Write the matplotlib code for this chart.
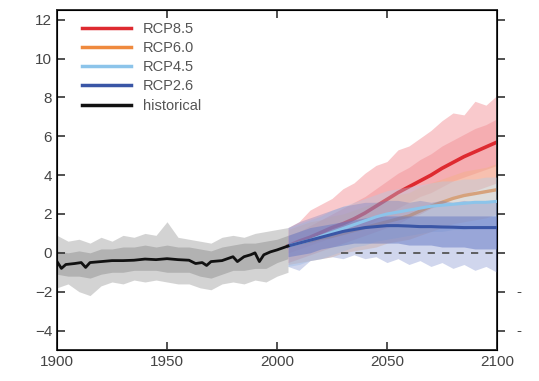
import matplotlib
matplotlib.use("Agg")
import matplotlib.pyplot as plt

plt.rcParams["font.family"] = ["Liberation Sans", "DejaVu Sans"]

# -----------------------------
# DATA
# -----------------------------
hist_mean_years = [1900, 1902, 1904, 1908, 1911, 1913, 1915, 1920, 1925, 1930, 1935, 1940,
                   1945, 1950, 1955, 1960, 1963, 1966, 1968, 1970, 1975, 1980, 1982, 1985,
                   1988, 1990, 1992, 1994, 1997, 2000, 2005]
hist_mean = [-0.45, -0.8, -0.6, -0.55, -0.5, -0.75, -0.5, -0.45, -0.4, -0.4, -0.38, -0.32,
             -0.35, -0.3, -0.35, -0.38, -0.55, -0.5, -0.65, -0.45, -0.4, -0.2, -0.45, -0.2,
             -0.1, 0.0, -0.45, -0.1, 0.05, 0.15, 0.35]

hist_years = [1900, 1905, 1910, 1915, 1920, 1925, 1930, 1935, 1940, 1945, 1950, 1955,
              1960, 1965, 1970, 1975, 1980, 1985, 1990, 1995, 2000, 2005]
hist_hi = [0.9, 0.6, 0.7, 0.5, 0.8, 0.6, 0.9, 0.8, 1.0, 0.9, 1.6, 0.8,
           0.7, 0.6, 0.5, 0.8, 0.9, 0.8, 1.0, 1.1, 1.2, 1.3]
hist_lo = [-1.8, -1.6, -2.0, -2.2, -1.7, -1.5, -1.6, -1.4, -1.5, -1.4, -1.5, -1.6,
           -1.6, -1.8, -1.9, -1.6, -1.5, -1.6, -1.4, -1.5, -1.2, -1.0]
hist_hi_core = [0.1, 0.0, 0.1, 0.0, 0.2, 0.2, 0.3, 0.3, 0.4, 0.3, 0.4, 0.3,
                0.3, 0.2, 0.1, 0.3, 0.4, 0.5, 0.5, 0.6, 0.7, 0.9]
hist_lo_core = [-1.1, -1.2, -1.2, -1.3, -1.1, -1.0, -1.0, -0.9, -0.9, -0.9, -1.0, -1.0,
                -1.0, -1.2, -1.3, -1.1, -0.9, -0.9, -0.8, -0.8, -0.5, -0.3]

rcp_years = [2005, 2010, 2015, 2020, 2025, 2030, 2035, 2040, 2045, 2050,
             2055, 2060, 2065, 2070, 2075, 2080, 2085, 2090, 2095, 2100]

rcp85_mean = [0.35, 0.6, 0.8, 1.05, 1.3, 1.5, 1.75, 2.05, 2.4, 2.75,
              3.1, 3.4, 3.7, 4.0, 4.35, 4.65, 4.95, 5.2, 5.45, 5.7]
rcp85_hi = [1.3, 1.6, 2.2, 2.5, 2.8, 3.3, 3.6, 4.1, 4.5, 4.7,
            5.3, 5.5, 5.9, 6.3, 6.8, 7.2, 7.1, 7.8, 7.6, 8.1]
rcp85_lo = [-0.5, -0.3, -0.1, 0.1, 0.3, 0.5, 0.7, 0.9, 1.1, 1.3,
            1.5, 1.8, 2.0, 2.3, 2.5, 2.8, 3.0, 3.2, 3.4, 3.6]
rcp85_hi_core = [0.9, 1.1, 1.4, 1.7, 2.0, 2.3, 2.6, 2.9, 3.3, 3.7,
                 4.1, 4.4, 4.8, 5.1, 5.5, 5.8, 6.1, 6.4, 6.6, 6.9]
rcp85_lo_core = [0.0, 0.2, 0.4, 0.6, 0.8, 1.0, 1.2, 1.4, 1.7, 2.0,
                 2.3, 2.6, 2.9, 3.1, 3.4, 3.7, 3.9, 4.1, 4.3, 4.5]

rcp60_mean = [0.35, 0.5, 0.6, 0.75, 0.85, 1.0, 1.15, 1.3, 1.45, 1.6,
              1.75, 1.9, 2.15, 2.4, 2.6, 2.8, 2.95, 3.05, 3.15, 3.25]
rcp60_hi = [1.2, 1.4, 1.6, 1.7, 1.9, 2.0, 2.2, 2.4, 2.6, 2.8,
            3.0, 3.1, 3.4, 3.6, 3.8, 4.0, 4.2, 4.3, 4.4, 4.6]
rcp60_lo = [-0.6, -0.5, -0.4, -0.3, -0.2, 0.0, 0.1, 0.2, 0.3, 0.5,
            0.6, 0.7, 0.9, 1.1, 1.3, 1.5, 1.6, 1.7, 1.8, 2.0]

rcp45_mean = [0.35, 0.5, 0.65, 0.85, 1.05, 1.25, 1.45, 1.65, 1.85, 2.0,
              2.1, 2.2, 2.3, 2.4, 2.45, 2.5, 2.55, 2.6, 2.6, 2.65]
rcp45_hi = [1.3, 1.5, 1.7, 1.9, 2.2, 2.4, 2.6, 2.8, 3.0, 3.2,
            3.3, 3.4, 3.5, 3.6, 3.7, 3.7, 3.8, 3.8, 3.9, 3.9]
rcp45_lo = [-0.7, -0.6, -0.4, -0.3, -0.1, 0.1, 0.3, 0.4, 0.6, 0.7,
            0.8, 0.9, 1.0, 1.1, 1.1, 1.2, 1.2, 1.3, 1.3, 1.3]

rcp26_mean = [0.35, 0.5, 0.65, 0.8, 0.95, 1.1, 1.2, 1.3, 1.35, 1.4,
              1.4, 1.38, 1.35, 1.35, 1.33, 1.32, 1.3, 1.3, 1.3, 1.3]
rcp26_hi = [1.3, 1.6, 1.8, 2.0, 2.2, 2.4, 2.5, 2.6, 2.6, 2.7,
            2.7, 2.6, 2.7, 2.6, 2.7, 2.6, 2.7, 2.6, 2.7, 2.6]
rcp26_lo = [-0.7, -0.9, -0.4, -0.3, -0.2, -0.3, -0.1, -0.3, -0.2, -0.5,
            -0.3, -0.6, -0.4, -0.7, -0.5, -0.8, -0.6, -0.9, -0.7, -1.0]
rcp26_hi_core = [0.9, 1.1, 1.3, 1.4, 1.5, 1.6, 1.7, 1.8, 1.9, 1.9,
                 1.9, 1.9, 1.9, 1.9, 1.9, 1.9, 1.9, 1.9, 1.9, 1.9]
rcp26_lo_core = [-0.2, -0.1, 0.0, 0.2, 0.3, 0.4, 0.5, 0.5, 0.5, 0.5,
                 0.5, 0.4, 0.4, 0.4, 0.3, 0.3, 0.3, 0.2, 0.2, 0.2]

labels = ["RCP8.5", "RCP6.0", "RCP4.5", "RCP2.6", "historical"]
line_colors = ["#de2a30", "#ef8a3e", "#8cc4ea", "#3a56a6", "#111111"]
band_colors = ["#f07a80", "#f4b07a", "#a8d0f0", "#6478c4"]

x_ticks = [1900, 1950, 2000, 2050, 2100]
y_ticks = [-4, -2, 0, 2, 4, 6, 8, 10, 12]


def main() -> None:
    fig = plt.figure(figsize=(5.39, 3.81), dpi=100)
    ax = fig.add_axes([0.1058, 0.0814, 0.8162, 0.8924])

    # ensemble spread: historical
    ax.fill_between(hist_years, hist_lo, hist_hi, color="#b0b0b0", alpha=0.55, lw=0)
    ax.fill_between(hist_years, hist_lo_core, hist_hi_core, color="#8a8a8a", alpha=0.45, lw=0)

    # ensemble spread: scenarios (high scenarios first, their means partly under the blue spread)
    ax.fill_between(rcp_years, rcp85_lo, rcp85_hi, color=band_colors[0], alpha=0.4, lw=0)
    ax.fill_between(rcp_years, rcp85_lo_core, rcp85_hi_core, color=band_colors[0], alpha=0.35, lw=0)
    ax.fill_between(rcp_years, rcp60_lo, rcp60_hi, color=band_colors[1], alpha=0.35, lw=0)
    ax.plot(rcp_years, rcp85_mean, color=line_colors[0], lw=2.6, zorder=2)
    ax.plot(rcp_years, rcp60_mean, color=line_colors[1], lw=2.4, zorder=2)
    ax.fill_between(rcp_years, rcp45_lo, rcp45_hi, color=band_colors[2], alpha=0.35, lw=0, zorder=3)
    ax.fill_between(rcp_years, rcp26_lo, rcp26_hi, color=band_colors[3], alpha=0.3, lw=0, zorder=3)
    ax.fill_between(rcp_years, rcp26_lo_core, rcp26_hi_core, color=band_colors[3], alpha=0.5,
                    lw=0, zorder=3)

    ax.hlines(0, 2029, 2100, colors="#555555", linestyles=(0, (4, 4)), lw=1.3, zorder=4)

    ax.plot(rcp_years, rcp45_mean, color=line_colors[2], lw=2.2, zorder=4)
    ax.plot(rcp_years, rcp26_mean, color=line_colors[3], lw=2.2, zorder=4)
    ax.plot(hist_mean_years, hist_mean, color=line_colors[4], lw=2.0, zorder=5)

    # legend (proxy handles)
    handles = [plt.Line2D([], [], color=c, lw=2.5) for c in line_colors]
    leg = ax.legend(handles, labels, loc="upper left", frameon=False, fontsize=10.5,
                    handlelength=3.4, labelspacing=0.36, borderaxespad=0.4,
                    handletextpad=0.8, bbox_to_anchor=(0.03, 1.0))
    for t in leg.get_texts():
        t.set_color("#555555")

    ax.set_xlim(1900, 2100)
    ax.set_ylim(-5, 12.5)
    ax.set_xticks(x_ticks)
    ax.set_yticks(y_ticks)
    ax.tick_params(axis="both", labelsize=11, labelcolor="#444444", color="#333333")
    ax.tick_params(axis="y", direction="in", length=6, width=1.2, right=False)
    ax.tick_params(axis="x", direction="in", length=6, width=1.2, top=True)
    for s in ax.spines.values():
        s.set_linewidth(1.4)
        s.set_color("#333333")

    # outward ticks on the right-hand side
    ax2 = ax.twinx()
    ax2.set_ylim(ax.get_ylim())
    ax2.set_yticks(y_ticks)
    ax2.tick_params(axis="y", direction="out", length=6, width=1.2, color="#333333",
                    labelright=False)
    for v in (-2, -4):
        ax2.text(1.045, v, "-", transform=ax2.get_yaxis_transform(), va="center",
                 ha="left", fontsize=11, color="#444444")

    fig.savefig("out.png", dpi=100)
    plt.close(fig)


if __name__ == "__main__":
    main()
